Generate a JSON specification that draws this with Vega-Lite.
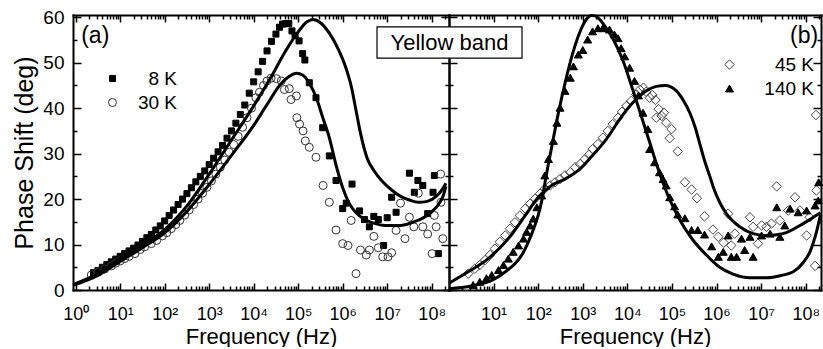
{
"$schema": "https://vega.github.io/schema/vega-lite/v6.json",
"padding": {"left": 12, "top": 8, "right": 0, "bottom": 0},
"spacing": 0,
"bounds": "flush",
"datasets": {
"a_pts": [
{"f":2.51,"p":3.8,"s":"8 K"},{"f":3.16,"p":4.3,"s":"8 K"},{"f":3.98,"p":5.0,"s":"8 K"},{"f":5.01,"p":5.6,"s":"8 K"},{"f":6.31,"p":6.2,"s":"8 K"},{"f":7.94,"p":6.8,"s":"8 K"},{"f":10,"p":7.4,"s":"8 K"},{"f":12.6,"p":8.0,"s":"8 K"},{"f":15.8,"p":8.6,"s":"8 K"},{"f":20,"p":9.2,"s":"8 K"},{"f":25.1,"p":9.9,"s":"8 K"},{"f":31.6,"p":10.7,"s":"8 K"},{"f":39.8,"p":11.5,"s":"8 K"},{"f":50.1,"p":12.2,"s":"8 K"},{"f":63.1,"p":13.2,"s":"8 K"},{"f":79.4,"p":14.1,"s":"8 K"},{"f":100,"p":15.2,"s":"8 K"},{"f":126,"p":16.4,"s":"8 K"},{"f":158,"p":17.6,"s":"8 K"},{"f":200,"p":18.8,"s":"8 K"},{"f":251,"p":20.0,"s":"8 K"},{"f":316,"p":21.2,"s":"8 K"},{"f":398,"p":22.5,"s":"8 K"},{"f":501,"p":23.8,"s":"8 K"},{"f":631,"p":25.0,"s":"8 K"},{"f":794,"p":26.2,"s":"8 K"},{"f":1000,"p":27.6,"s":"8 K"},{"f":1259,"p":29.0,"s":"8 K"},{"f":1585,"p":30.4,"s":"8 K"},{"f":1995,"p":31.8,"s":"8 K"},{"f":2512,"p":33.4,"s":"8 K"},{"f":3162,"p":35.0,"s":"8 K"},{"f":3981,"p":36.7,"s":"8 K"},{"f":5012,"p":38.6,"s":"8 K"},{"f":6310,"p":40.7,"s":"8 K"},{"f":7943,"p":43.3,"s":"8 K"},{"f":1e4,"p":45.8,"s":"8 K"},{"f":1.259e4,"p":48.0,"s":"8 K"},{"f":1.585e4,"p":50.3,"s":"8 K"},{"f":1.995e4,"p":52.6,"s":"8 K"},{"f":2.512e4,"p":54.7,"s":"8 K"},{"f":3.162e4,"p":56.3,"s":"8 K"},{"f":3.802e4,"p":57.8,"s":"8 K"},{"f":4.467e4,"p":58.5,"s":"8 K"},{"f":5.248e4,"p":58.6,"s":"8 K"},{"f":6.166e4,"p":58.6,"s":"8 K"},{"f":7.244e4,"p":57.0,"s":"8 K"},{"f":8.511e4,"p":56.0,"s":"8 K"},{"f":1.047e5,"p":54.8,"s":"8 K"},{"f":1.259e5,"p":52.0,"s":"8 K"},{"f":1.413e5,"p":50.6,"s":"8 K"},{"f":1.778e5,"p":45.6,"s":"8 K"},{"f":2.512e5,"p":42.3,"s":"8 K"},{"f":3.548e5,"p":35.7,"s":"8 K"},{"f":5.012e5,"p":29.5,"s":"8 K"},{"f":7.079e5,"p":24.1,"s":"8 K"},{"f":1e6,"p":17.9,"s":"8 K"},{"f":1.202e6,"p":19.1,"s":"8 K"},{"f":1.622e6,"p":23.3,"s":"8 K"},{"f":2.399e6,"p":17.4,"s":"8 K"},{"f":3.09e6,"p":15.5,"s":"8 K"},{"f":3.981e6,"p":13.9,"s":"8 K"},{"f":5.012e6,"p":16.2,"s":"8 K"},{"f":6.31e6,"p":15.5,"s":"8 K"},{"f":8.318e6,"p":9.8,"s":"8 K"},{"f":1e7,"p":15.9,"s":"8 K"},{"f":1.259e7,"p":20.4,"s":"8 K"},{"f":1.585e7,"p":17.1,"s":"8 K"},{"f":3.162e7,"p":25.7,"s":"8 K"},{"f":4.074e7,"p":21.5,"s":"8 K"},{"f":4.898e7,"p":24.1,"s":"8 K"},{"f":6.31e7,"p":23.0,"s":"8 K"},{"f":8.128e7,"p":16.8,"s":"8 K"},{"f":1.072e8,"p":21.5,"s":"8 K"},{"f":1.148e8,"p":25.2,"s":"8 K"},{"f":1.413e8,"p":8.0,"s":"8 K"},
{"f":2.24,"p":3.3,"s":"30 K"},{"f":3.16,"p":3.9,"s":"30 K"},{"f":4.47,"p":4.6,"s":"30 K"},{"f":6.31,"p":5.3,"s":"30 K"},{"f":7.94,"p":5.9,"s":"30 K"},{"f":10,"p":6.4,"s":"30 K"},{"f":12.6,"p":6.9,"s":"30 K"},{"f":15.8,"p":7.4,"s":"30 K"},{"f":21.4,"p":8.0,"s":"30 K"},{"f":28.2,"p":8.9,"s":"30 K"},{"f":35.5,"p":9.5,"s":"30 K"},{"f":50.1,"p":10.2,"s":"30 K"},{"f":66.1,"p":10.9,"s":"30 K"},{"f":89.1,"p":11.9,"s":"30 K"},{"f":112,"p":12.6,"s":"30 K"},{"f":141,"p":13.5,"s":"30 K"},{"f":178,"p":14.4,"s":"30 K"},{"f":219,"p":15.3,"s":"30 K"},{"f":282,"p":16.5,"s":"30 K"},{"f":355,"p":17.6,"s":"30 K"},{"f":447,"p":18.8,"s":"30 K"},{"f":562,"p":20.0,"s":"30 K"},{"f":708,"p":21.3,"s":"30 K"},{"f":891,"p":22.6,"s":"30 K"},{"f":1122,"p":24.0,"s":"30 K"},{"f":1413,"p":25.5,"s":"30 K"},{"f":1778,"p":27.0,"s":"30 K"},{"f":2239,"p":28.6,"s":"30 K"},{"f":2818,"p":30.3,"s":"30 K"},{"f":3548,"p":32.0,"s":"30 K"},{"f":4467,"p":33.8,"s":"30 K"},{"f":5623,"p":35.8,"s":"30 K"},{"f":7079,"p":37.9,"s":"30 K"},{"f":8913,"p":40.0,"s":"30 K"},{"f":1.122e4,"p":42.3,"s":"30 K"},{"f":1.349e4,"p":43.5,"s":"30 K"},{"f":1.66e4,"p":45.0,"s":"30 K"},{"f":1.995e4,"p":46.0,"s":"30 K"},{"f":2.455e4,"p":46.6,"s":"30 K"},{"f":3.236e4,"p":46.5,"s":"30 K"},{"f":4.169e4,"p":46.0,"s":"30 K"},{"f":4.898e4,"p":44.1,"s":"30 K"},{"f":6.31e4,"p":44.3,"s":"30 K"},{"f":6.918e4,"p":41.9,"s":"30 K"},{"f":9.12e4,"p":42.7,"s":"30 K"},{"f":9.333e4,"p":37.9,"s":"30 K"},{"f":1.072e5,"p":36.5,"s":"30 K"},{"f":1.288e5,"p":35.0,"s":"30 K"},{"f":1.445e5,"p":32.8,"s":"30 K"},{"f":1.778e5,"p":31.4,"s":"30 K"},{"f":2.512e5,"p":29.2,"s":"30 K"},{"f":3.631e5,"p":23.0,"s":"30 K"},{"f":5.012e5,"p":19.3,"s":"30 K"},{"f":7.079e5,"p":13.2,"s":"30 K"},{"f":1e6,"p":10.2,"s":"30 K"},{"f":1.318e6,"p":9.8,"s":"30 K"},{"f":1.549e6,"p":15.3,"s":"30 K"},{"f":1.995e6,"p":3.6,"s":"30 K"},{"f":2.512e6,"p":8.8,"s":"30 K"},{"f":3.388e6,"p":7.7,"s":"30 K"},{"f":3.981e6,"p":8.8,"s":"30 K"},{"f":5.012e6,"p":11.8,"s":"30 K"},{"f":6.31e6,"p":9.3,"s":"30 K"},{"f":7.943e6,"p":7.3,"s":"30 K"},{"f":1.047e7,"p":7.3,"s":"30 K"},{"f":1.259e7,"p":8.2,"s":"30 K"},{"f":1.585e7,"p":13.1,"s":"30 K"},{"f":1.995e7,"p":19.1,"s":"30 K"},{"f":2.512e7,"p":11.3,"s":"30 K"},{"f":3.162e7,"p":16.0,"s":"30 K"},{"f":3.981e7,"p":13.9,"s":"30 K"},{"f":5.012e7,"p":21.3,"s":"30 K"},{"f":6.31e7,"p":13.9,"s":"30 K"},{"f":8.128e7,"p":12.3,"s":"30 K"},{"f":1.023e8,"p":8.0,"s":"30 K"},{"f":1.148e8,"p":16.4,"s":"30 K"},{"f":1.259e8,"p":13.9,"s":"30 K"},{"f":1.585e8,"p":25.5,"s":"30 K"},{"f":1.622e8,"p":19.3,"s":"30 K"},{"f":1.778e8,"p":11.3,"s":"30 K"}
],
"a_fit": [
{"f":0.871,"p":1.2,"s":"8 K"},{"f":3.16,"p":3.6,"s":"8 K"},{"f":10,"p":7.0,"s":"8 K"},{"f":31.6,"p":9.9,"s":"8 K"},{"f":100,"p":13.3,"s":"8 K"},{"f":316,"p":18.5,"s":"8 K"},{"f":1000,"p":25.5,"s":"8 K"},{"f":3162,"p":33.0,"s":"8 K"},{"f":1e4,"p":40.5,"s":"8 K"},{"f":2.512e4,"p":47.0,"s":"8 K"},{"f":5.012e4,"p":52.3,"s":"8 K"},{"f":1e5,"p":56.8,"s":"8 K"},{"f":1.585e5,"p":59.0,"s":"8 K"},{"f":2.138e5,"p":59.5,"s":"8 K"},{"f":3.162e5,"p":58.8,"s":"8 K"},{"f":5.012e5,"p":56.5,"s":"8 K"},{"f":7.943e5,"p":53.0,"s":"8 K"},{"f":1.122e6,"p":49.5,"s":"8 K"},{"f":1.585e6,"p":44.5,"s":"8 K"},{"f":1.995e6,"p":39.5,"s":"8 K"},{"f":2.512e6,"p":34.5,"s":"8 K"},{"f":3.548e6,"p":29.0,"s":"8 K"},{"f":5.012e6,"p":26.3,"s":"8 K"},{"f":7.943e6,"p":23.8,"s":"8 K"},{"f":1.259e7,"p":22.0,"s":"8 K"},{"f":1.995e7,"p":20.6,"s":"8 K"},{"f":3.162e7,"p":19.8,"s":"8 K"},{"f":5.012e7,"p":19.3,"s":"8 K"},{"f":7.943e7,"p":19.5,"s":"8 K"},{"f":1.259e8,"p":20.6,"s":"8 K"},{"f":1.778e8,"p":22.3,"s":"8 K"},{"f":2.089e8,"p":23.5,"s":"8 K"},
{"f":0.871,"p":1.0,"s":"30 K"},{"f":3.16,"p":3.2,"s":"30 K"},{"f":10,"p":6.3,"s":"30 K"},{"f":31.6,"p":9.3,"s":"30 K"},{"f":100,"p":12.6,"s":"30 K"},{"f":316,"p":17.3,"s":"30 K"},{"f":1000,"p":23.2,"s":"30 K"},{"f":3162,"p":29.6,"s":"30 K"},{"f":1e4,"p":36.2,"s":"30 K"},{"f":1.995e4,"p":40.8,"s":"30 K"},{"f":3.981e4,"p":45.2,"s":"30 K"},{"f":6.31e4,"p":47.0,"s":"30 K"},{"f":9.12e4,"p":47.7,"s":"30 K"},{"f":1.259e5,"p":47.3,"s":"30 K"},{"f":1.778e5,"p":45.5,"s":"30 K"},{"f":2.512e5,"p":42.5,"s":"30 K"},{"f":3.548e5,"p":38.0,"s":"30 K"},{"f":5.012e5,"p":33.5,"s":"30 K"},{"f":7.079e5,"p":27.5,"s":"30 K"},{"f":1e6,"p":22.5,"s":"30 K"},{"f":1.413e6,"p":19.0,"s":"30 K"},{"f":1.995e6,"p":17.0,"s":"30 K"},{"f":3.162e6,"p":15.5,"s":"30 K"},{"f":5.012e6,"p":14.7,"s":"30 K"},{"f":8.913e6,"p":14.2,"s":"30 K"},{"f":1.995e7,"p":14.2,"s":"30 K"},{"f":3.981e7,"p":15.0,"s":"30 K"},{"f":6.31e7,"p":15.8,"s":"30 K"},{"f":1e8,"p":17.2,"s":"30 K"},{"f":1.413e8,"p":18.8,"s":"30 K"},{"f":1.778e8,"p":20.5,"s":"30 K"},{"f":2.089e8,"p":22.8,"s":"30 K"}
],
"b_pts": [
{"f":2.69,"p":3.6,"s":"45 K"},{"f":3.8,"p":4.7,"s":"45 K"},{"f":4.9,"p":5.5,"s":"45 K"},{"f":6.46,"p":6.6,"s":"45 K"},{"f":8.32,"p":7.7,"s":"45 K"},{"f":10.7,"p":9.1,"s":"45 K"},{"f":13.8,"p":10.6,"s":"45 K"},{"f":18.2,"p":12.0,"s":"45 K"},{"f":23.4,"p":13.5,"s":"45 K"},{"f":30.2,"p":14.9,"s":"45 K"},{"f":38.9,"p":16.4,"s":"45 K"},{"f":51.3,"p":17.9,"s":"45 K"},{"f":66.1,"p":19.0,"s":"45 K"},{"f":85.1,"p":20.1,"s":"45 K"},{"f":110,"p":21.2,"s":"45 K"},{"f":141,"p":22.3,"s":"45 K"},{"f":186,"p":23.0,"s":"45 K"},{"f":240,"p":23.7,"s":"45 K"},{"f":309,"p":24.4,"s":"45 K"},{"f":398,"p":25.2,"s":"45 K"},{"f":525,"p":25.9,"s":"45 K"},{"f":676,"p":27.0,"s":"45 K"},{"f":871,"p":27.7,"s":"45 K"},{"f":1122,"p":28.8,"s":"45 K"},{"f":1380,"p":29.8,"s":"45 K"},{"f":1660,"p":31.0,"s":"45 K"},{"f":2188,"p":32.1,"s":"45 K"},{"f":2818,"p":33.5,"s":"45 K"},{"f":3631,"p":35.0,"s":"45 K"},{"f":4677,"p":36.5,"s":"45 K"},{"f":6166,"p":37.9,"s":"45 K"},{"f":7586,"p":39.2,"s":"45 K"},{"f":9550,"p":40.5,"s":"45 K"},{"f":1.23e4,"p":41.6,"s":"45 K"},{"f":1.585e4,"p":43.0,"s":"45 K"},{"f":1.905e4,"p":44.1,"s":"45 K"},{"f":2.291e4,"p":44.5,"s":"45 K"},{"f":2.63e4,"p":43.6,"s":"45 K"},{"f":3.162e4,"p":42.3,"s":"45 K"},{"f":3.631e4,"p":42.9,"s":"45 K"},{"f":4.266e4,"p":41.8,"s":"45 K"},{"f":4.467e4,"p":37.9,"s":"45 K"},{"f":5.012e4,"p":39.8,"s":"45 K"},{"f":5.888e4,"p":38.3,"s":"45 K"},{"f":6.607e4,"p":39.0,"s":"45 K"},{"f":7.413e4,"p":36.8,"s":"45 K"},{"f":8.913e4,"p":33.4,"s":"45 K"},{"f":9.772e4,"p":35.4,"s":"45 K"},{"f":1.349e5,"p":30.5,"s":"45 K"},{"f":1.95e5,"p":23.7,"s":"45 K"},{"f":2.754e5,"p":22.1,"s":"45 K"},{"f":3.631e5,"p":20.2,"s":"45 K"},{"f":5.37e5,"p":16.2,"s":"45 K"},{"f":8.318e5,"p":13.3,"s":"45 K"},{"f":1.096e6,"p":11.7,"s":"45 K"},{"f":1.445e6,"p":10.4,"s":"45 K"},{"f":1.82e6,"p":16.8,"s":"45 K"},{"f":2.138e6,"p":9.8,"s":"45 K"},{"f":2.57e6,"p":12.4,"s":"45 K"},{"f":5.623e6,"p":16.0,"s":"45 K"},{"f":6.607e6,"p":13.9,"s":"45 K"},{"f":8.511e6,"p":10.2,"s":"45 K"},{"f":1.023e7,"p":14.2,"s":"45 K"},{"f":1.318e7,"p":13.9,"s":"45 K"},{"f":1.698e7,"p":14.6,"s":"45 K"},{"f":2.239e7,"p":22.8,"s":"45 K"},{"f":2.63e7,"p":15.3,"s":"45 K"},{"f":4.074e7,"p":17.5,"s":"45 K"},{"f":5.754e7,"p":20.4,"s":"45 K"},{"f":7.413e7,"p":17.5,"s":"45 K"},{"f":1.047e8,"p":12.0,"s":"45 K"},{"f":1.23e8,"p":16.0,"s":"45 K"},{"f":1.622e8,"p":5.3,"s":"45 K"},{"f":1.738e8,"p":21.9,"s":"45 K"},{"f":1.698e8,"p":38.5,"s":"45 K"},
{"f":3.47,"p":1.1,"s":"140 K"},{"f":4.9,"p":1.8,"s":"140 K"},{"f":6.92,"p":2.6,"s":"140 K"},{"f":9.12,"p":3.3,"s":"140 K"},{"f":12.9,"p":4.4,"s":"140 K"},{"f":16.6,"p":5.5,"s":"140 K"},{"f":21.4,"p":6.9,"s":"140 K"},{"f":27.5,"p":8.4,"s":"140 K"},{"f":36.3,"p":9.8,"s":"140 K"},{"f":46.8,"p":11.3,"s":"140 K"},{"f":55.0,"p":12.8,"s":"140 K"},{"f":66.1,"p":14.2,"s":"140 K"},{"f":77.6,"p":15.7,"s":"140 K"},{"f":93.3,"p":18.2,"s":"140 K"},{"f":120,"p":20.8,"s":"140 K"},{"f":141,"p":25.2,"s":"140 K"},{"f":170,"p":28.8,"s":"140 K"},{"f":219,"p":32.8,"s":"140 K"},{"f":263,"p":36.8,"s":"140 K"},{"f":309,"p":40.1,"s":"140 K"},{"f":398,"p":43.8,"s":"140 K"},{"f":525,"p":46.7,"s":"140 K"},{"f":617,"p":49.2,"s":"140 K"},{"f":794,"p":51.8,"s":"140 K"},{"f":1000,"p":52.8,"s":"140 K"},{"f":1288,"p":55.1,"s":"140 K"},{"f":1660,"p":56.9,"s":"140 K"},{"f":2188,"p":57.6,"s":"140 K"},{"f":2818,"p":57.6,"s":"140 K"},{"f":3981,"p":57.3,"s":"140 K"},{"f":5129,"p":56.2,"s":"140 K"},{"f":6166,"p":55.4,"s":"140 K"},{"f":7244,"p":53.2,"s":"140 K"},{"f":8710,"p":51.4,"s":"140 K"},{"f":1.122e4,"p":48.9,"s":"140 K"},{"f":1.445e4,"p":46.0,"s":"140 K"},{"f":1.778e4,"p":42.8,"s":"140 K"},{"f":2.239e4,"p":39.0,"s":"140 K"},{"f":2.884e4,"p":35.4,"s":"140 K"},{"f":3.162e4,"p":31.0,"s":"140 K"},{"f":4.074e4,"p":28.1,"s":"140 K"},{"f":5.248e4,"p":25.9,"s":"140 K"},{"f":6.31e4,"p":24.4,"s":"140 K"},{"f":7.413e4,"p":23.0,"s":"140 K"},{"f":8.913e4,"p":20.4,"s":"140 K"},{"f":1.148e5,"p":18.4,"s":"140 K"},{"f":1.349e5,"p":16.6,"s":"140 K"},{"f":1.95e5,"p":15.8,"s":"140 K"},{"f":2.754e5,"p":13.2,"s":"140 K"},{"f":3.802e5,"p":13.2,"s":"140 K"},{"f":5.37e5,"p":12.2,"s":"140 K"},{"f":7.762e5,"p":9.6,"s":"140 K"},{"f":1.096e6,"p":7.3,"s":"140 K"},{"f":1.413e6,"p":8.4,"s":"140 K"},{"f":1.82e6,"p":12.0,"s":"140 K"},{"f":2.138e6,"p":7.3,"s":"140 K"},{"f":2.818e6,"p":7.3,"s":"140 K"},{"f":3.631e6,"p":11.3,"s":"140 K"},{"f":4.266e6,"p":8.8,"s":"140 K"},{"f":5.623e6,"p":11.7,"s":"140 K"},{"f":6.607e6,"p":7.3,"s":"140 K"},{"f":1.023e7,"p":12.0,"s":"140 K"},{"f":1.585e7,"p":12.4,"s":"140 K"},{"f":2.239e7,"p":18.2,"s":"140 K"},{"f":2.63e7,"p":11.7,"s":"140 K"},{"f":3.388e7,"p":14.2,"s":"140 K"},{"f":4.467e7,"p":17.9,"s":"140 K"},{"f":6.761e7,"p":17.1,"s":"140 K"},{"f":1.047e8,"p":17.5,"s":"140 K"},{"f":1.622e8,"p":18.6,"s":"140 K"},{"f":1.905e8,"p":19.7,"s":"140 K"},{"f":1.95e8,"p":23.7,"s":"140 K"}
],
"b_fit": [
{"f":1,"p":1.5,"s":"45 K"},{"f":2.69,"p":4.0,"s":"45 K"},{"f":7.59,"p":6.9,"s":"45 K"},{"f":21.4,"p":11.3,"s":"45 K"},{"f":51.3,"p":16.4,"s":"45 K"},{"f":100,"p":20.4,"s":"45 K"},{"f":199.5,"p":23.0,"s":"45 K"},{"f":398,"p":24.4,"s":"45 K"},{"f":794,"p":26.3,"s":"45 K"},{"f":1585,"p":29.4,"s":"45 K"},{"f":3388,"p":33.2,"s":"45 K"},{"f":6761,"p":37.6,"s":"45 K"},{"f":1.318e4,"p":41.2,"s":"45 K"},{"f":2.63e4,"p":43.8,"s":"45 K"},{"f":4.467e4,"p":44.8,"s":"45 K"},{"f":7.079e4,"p":45.0,"s":"45 K"},{"f":1.259e5,"p":43.8,"s":"45 K"},{"f":1.778e5,"p":41.8,"s":"45 K"},{"f":2.512e5,"p":39.0,"s":"45 K"},{"f":3.311e5,"p":35.8,"s":"45 K"},{"f":4.169e5,"p":32.3,"s":"45 K"},{"f":5.37e5,"p":28.5,"s":"45 K"},{"f":7.079e5,"p":25.0,"s":"45 K"},{"f":8.913e5,"p":22.0,"s":"45 K"},{"f":1.175e6,"p":19.3,"s":"45 K"},{"f":1.66e6,"p":16.8,"s":"45 K"},{"f":3.311e6,"p":13.9,"s":"45 K"},{"f":6.607e6,"p":12.4,"s":"45 K"},{"f":1.318e7,"p":12.0,"s":"45 K"},{"f":3.09e7,"p":12.4,"s":"45 K"},{"f":7.413e7,"p":14.2,"s":"45 K"},{"f":1.479e8,"p":16.0,"s":"45 K"},{"f":2.138e8,"p":17.0,"s":"45 K"},
{"f":1,"p":0.3,"s":"140 K"},{"f":3.16,"p":0.9,"s":"140 K"},{"f":10,"p":2.3,"s":"140 K"},{"f":20,"p":4.3,"s":"140 K"},{"f":31.6,"p":6.0,"s":"140 K"},{"f":44.7,"p":8.0,"s":"140 K"},{"f":60.3,"p":10.6,"s":"140 K"},{"f":79.4,"p":13.5,"s":"140 K"},{"f":100,"p":16.4,"s":"140 K"},{"f":120.2,"p":19.6,"s":"140 K"},{"f":141.3,"p":23.5,"s":"140 K"},{"f":166,"p":27.3,"s":"140 K"},{"f":199.5,"p":31.3,"s":"140 K"},{"f":281.8,"p":38.8,"s":"140 K"},{"f":398,"p":45.4,"s":"140 K"},{"f":616.6,"p":52.6,"s":"140 K"},{"f":955,"p":57.8,"s":"140 K"},{"f":1259,"p":59.8,"s":"140 K"},{"f":1549,"p":60.4,"s":"140 K"},{"f":1905,"p":60.3,"s":"140 K"},{"f":2399,"p":59.5,"s":"140 K"},{"f":3162,"p":58.0,"s":"140 K"},{"f":4677,"p":55.4,"s":"140 K"},{"f":7943,"p":50.5,"s":"140 K"},{"f":1.318e4,"p":44.1,"s":"140 K"},{"f":2.042e4,"p":38.3,"s":"140 K"},{"f":3.162e4,"p":32.5,"s":"140 K"},{"f":4.898e4,"p":26.6,"s":"140 K"},{"f":8.128e4,"p":20.8,"s":"140 K"},{"f":1.479e5,"p":15.5,"s":"140 K"},{"f":2.951e5,"p":11.0,"s":"140 K"},{"f":5.888e5,"p":7.7,"s":"140 K"},{"f":1.175e6,"p":5.0,"s":"140 K"},{"f":2.344e6,"p":3.5,"s":"140 K"},{"f":5.623e6,"p":2.7,"s":"140 K"},{"f":1.318e7,"p":2.7,"s":"140 K"},{"f":2.818e7,"p":3.2,"s":"140 K"},{"f":5.248e7,"p":4.0,"s":"140 K"},{"f":8.71e7,"p":6.0,"s":"140 K"},{"f":1.259e8,"p":8.5,"s":"140 K"},{"f":1.66e8,"p":12.0,"s":"140 K"},{"f":2.138e8,"p":16.5,"s":"140 K"}
],
"a_note": [{"t":"(a)","f":1.33,"p":54.3}],
"b_note": [{"t":"(b)","f":4.44e7,"p":54.3}],
"box": [{"t":"Yellow band","f":1.026,"p":52.8,"f1":0.0243,"f2":43.4,"p1":51.0,"p2":57.9}]
},
"hconcat": [
{
"width": 376, "height": 275,
"layer": [
{
"data": {"name": "a_pts"},
"mark": {"type": "point", "filled": true, "strokeWidth": 1, "opacity": 1},
"encoding": {
"x": {"field": "f", "type": "quantitative", "scale": {"type": "log", "domain": [0.87, 2.45e8], "nice": false},
 "axis": {"orient": "bottom", "title": "Frequency (Hz)", "titlePadding": 0,
  "values": [1,2,3,4,5,6,7,8,9,10,20,30,40,50,60,70,80,90,100,200,300,400,500,600,700,800,900,1000,2000,3000,4000,5000,6000,7000,8000,9000,1e4,2e4,3e4,4e4,5e4,6e4,7e4,8e4,9e4,1e5,2e5,3e5,4e5,5e5,6e5,7e5,8e5,9e5,1e6,2e6,3e6,4e6,5e6,6e6,7e6,8e6,9e6,1e7,2e7,3e7,4e7,5e7,6e7,7e7,8e7,9e7,1e8,2e8],
  "labelExpr": "abs(log(datum.value)/LN10-round(log(datum.value)/LN10))<0.001 ? '10' + ['⁰','¹','²','³','⁴','⁵','⁶','⁷','⁸'][round(log(datum.value)/LN10)] : ''",
  "tickSize": {"condition": {"test": "abs(log(datum.value)/LN10-round(log(datum.value)/LN10))<0.001", "value": -7}, "value": -4},
  "labelPadding": 22}},
"y": {"field": "p", "type": "quantitative", "scale": {"domain": [0, 60.5], "nice": false, "zero": false},
 "axis": {"orient": "left", "title": "Phase Shift (deg)", "titleFontSize": 25, "titlePadding": 5,
  "values": [0,5,10,15,20,25,30,35,40,45,50,55,60],
  "labelExpr": "datum.value % 10 == 0 ? datum.label : ''",
  "tickSize": {"condition": {"test": "datum.value % 10 == 0", "value": -8}, "value": -4},
  "labelPadding": 17, "labelFontSize": 19}},
"shape": {"field": "s", "type": "nominal", "scale": {"domain": ["8 K", "30 K"], "range": ["square", "circle"]},
 "legend": {"title": null, "orient": "none", "legendX": 30, "legendY": 54, "labelAlign": "right", "labelOffset": 55, "labelFontSize": 19, "rowPadding": 4}},
"fill": {"field": "s", "type": "nominal", "scale": {"domain": ["8 K", "30 K"], "range": ["#000000", "transparent"]}},
"stroke": {"field": "s", "type": "nominal", "scale": {"domain": ["8 K", "30 K"], "range": ["#000000", "#333333"]}},
"size": {"field": "s", "type": "nominal", "scale": {"domain": ["8 K", "30 K"], "range": [36, 64]}}
}
},
{
"data": {"name": "a_fit"},
"mark": {"type": "line", "interpolate": "monotone", "strokeWidth": 3, "color": "#000000"},
"encoding": {
"x": {"field": "f", "type": "quantitative", "scale": {"type": "log", "domain": [0.87, 2.45e8], "nice": false},
 "axis": {"orient": "top", "title": null, "labels": false,
  "values": [1,2,3,4,5,6,7,8,9,10,20,30,40,50,60,70,80,90,100,200,300,400,500,600,700,800,900,1000,2000,3000,4000,5000,6000,7000,8000,9000,1e4,2e4,3e4,4e4,5e4,6e4,7e4,8e4,9e4,1e5,2e5,3e5,4e5,5e5,6e5,7e5,8e5,9e5,1e6,2e6,3e6,4e6,5e6,6e6,7e6,8e6,9e6,1e7,2e7,3e7,4e7,5e7,6e7,7e7,8e7,9e7,1e8,2e8],
  "tickSize": {"condition": {"test": "abs(log(datum.value)/LN10-round(log(datum.value)/LN10))<0.001", "value": -7}, "value": -4}}},
"y": {"field": "p", "type": "quantitative", "scale": {"domain": [0, 60.5], "nice": false, "zero": false},
 "axis": {"orient": "right", "title": null, "labels": false,
  "values": [0,5,10,15,20,25,30,35,40,45,50,55,60],
  "tickSize": {"condition": {"test": "datum.value % 10 == 0", "value": -8}, "value": -4}}},
"detail": {"field": "s", "type": "nominal"}
}
},
{
"data": {"name": "a_note"},
"mark": {"type": "text", "fontSize": 23, "align": "left", "baseline": "alphabetic", "color": "#000000"},
"encoding": {
"x": {"field": "f", "type": "quantitative", "scale": {"type": "log", "domain": [0.87, 2.45e8], "nice": false}, "axis": null},
"y": {"field": "p", "type": "quantitative", "scale": {"domain": [0, 60.5], "nice": false, "zero": false}, "axis": null},
"text": {"field": "t"}
}
}
],
"resolve": {"axis": {"x": "independent", "y": "independent"}}
},
{
"width": 372, "height": 275,
"layer": [
{
"data": {"name": "b_pts"},
"mark": {"type": "point", "filled": true, "strokeWidth": 1, "opacity": 1},
"encoding": {
"x": {"field": "f", "type": "quantitative", "scale": {"type": "log", "domain": [1, 2.2e8], "nice": false},
 "axis": {"orient": "bottom", "title": "Frequency (Hz)", "titlePadding": 0,
  "values": [2,3,4,5,6,7,8,9,10,20,30,40,50,60,70,80,90,100,200,300,400,500,600,700,800,900,1000,2000,3000,4000,5000,6000,7000,8000,9000,1e4,2e4,3e4,4e4,5e4,6e4,7e4,8e4,9e4,1e5,2e5,3e5,4e5,5e5,6e5,7e5,8e5,9e5,1e6,2e6,3e6,4e6,5e6,6e6,7e6,8e6,9e6,1e7,2e7,3e7,4e7,5e7,6e7,7e7,8e7,9e7,1e8,2e8],
  "labelExpr": "abs(log(datum.value)/LN10-round(log(datum.value)/LN10))<0.001 && datum.value > 5 ? '10' + ['⁰','¹','²','³','⁴','⁵','⁶','⁷','⁸'][round(log(datum.value)/LN10)] : ''",
  "tickSize": {"condition": {"test": "abs(log(datum.value)/LN10-round(log(datum.value)/LN10))<0.001", "value": -7}, "value": -4},
  "labelPadding": 22}},
"y": {"field": "p", "type": "quantitative", "scale": {"domain": [0, 60.5], "nice": false, "zero": false},
 "axis": {"orient": "left", "title": null, "labels": false,
  "values": [0,5,10,15,20,25,30,35,40,45,50,55,60],
  "tickSize": {"condition": {"test": "datum.value % 10 == 0", "value": -8}, "value": -4}}},
"shape": {"field": "s", "type": "nominal", "scale": {"domain": ["45 K", "140 K"], "range": ["diamond", "triangle-up"]},
 "legend": {"title": null, "orient": "none", "legendX": 271, "legendY": 40, "labelAlign": "right", "labelOffset": 75, "labelFontSize": 19, "rowPadding": 4}},
"fill": {"field": "s", "type": "nominal", "scale": {"domain": ["45 K", "140 K"], "range": ["transparent", "#000000"]}},
"stroke": {"field": "s", "type": "nominal", "scale": {"domain": ["45 K", "140 K"], "range": ["#444444", "#000000"]}},
"size": {"field": "s", "type": "nominal", "scale": {"domain": ["45 K", "140 K"], "range": [90, 64]}}
}
},
{
"data": {"name": "b_fit"},
"mark": {"type": "line", "interpolate": "monotone", "strokeWidth": 3, "color": "#000000"},
"encoding": {
"x": {"field": "f", "type": "quantitative", "scale": {"type": "log", "domain": [1, 2.2e8], "nice": false},
 "axis": {"orient": "top", "title": null, "labels": false,
  "values": [2,3,4,5,6,7,8,9,10,20,30,40,50,60,70,80,90,100,200,300,400,500,600,700,800,900,1000,2000,3000,4000,5000,6000,7000,8000,9000,1e4,2e4,3e4,4e4,5e4,6e4,7e4,8e4,9e4,1e5,2e5,3e5,4e5,5e5,6e5,7e5,8e5,9e5,1e6,2e6,3e6,4e6,5e6,6e6,7e6,8e6,9e6,1e7,2e7,3e7,4e7,5e7,6e7,7e7,8e7,9e7,1e8,2e8],
  "tickSize": {"condition": {"test": "abs(log(datum.value)/LN10-round(log(datum.value)/LN10))<0.001", "value": -7}, "value": -4}}},
"y": {"field": "p", "type": "quantitative", "scale": {"domain": [0, 60.5], "nice": false, "zero": false},
 "axis": {"orient": "right", "title": null, "labels": false,
  "values": [0,5,10,15,20,25,30,35,40,45,50,55,60],
  "tickSize": {"condition": {"test": "datum.value % 10 == 0", "value": -8}, "value": -4}}},
"detail": {"field": "s", "type": "nominal"}
}
},
{
"data": {"name": "box"},
"mark": {"type": "rect", "fill": "#ffffff", "stroke": "#000000", "strokeWidth": 1.2},
"encoding": {
"x": {"field": "f1", "type": "quantitative", "scale": {"type": "log", "domain": [1, 2.2e8], "nice": false}, "axis": null},
"x2": {"field": "f2"},
"y": {"field": "p1", "type": "quantitative", "scale": {"domain": [0, 60.5], "nice": false, "zero": false}, "axis": null},
"y2": {"field": "p2"}
}
},
{
"data": {"name": "box"},
"mark": {"type": "text", "fontSize": 22, "align": "center", "baseline": "alphabetic", "color": "#000000"},
"encoding": {
"x": {"field": "f", "type": "quantitative", "scale": {"type": "log", "domain": [1, 2.2e8], "nice": false}, "axis": null},
"y": {"field": "p", "type": "quantitative", "scale": {"domain": [0, 60.5], "nice": false, "zero": false}, "axis": null},
"text": {"field": "t"}
}
},
{
"data": {"name": "b_note"},
"mark": {"type": "text", "fontSize": 23, "align": "left", "baseline": "alphabetic", "color": "#000000"},
"encoding": {
"x": {"field": "f", "type": "quantitative", "scale": {"type": "log", "domain": [1, 2.2e8], "nice": false}, "axis": null},
"y": {"field": "p", "type": "quantitative", "scale": {"domain": [0, 60.5], "nice": false, "zero": false}, "axis": null},
"text": {"field": "t"}
}
}
],
"resolve": {"axis": {"x": "independent", "y": "independent"}}
}
],
"resolve": {"scale": {"shape": "independent", "fill": "independent", "stroke": "independent", "size": "independent"}},
"config": {
"font": "Liberation Sans",
"view": {"stroke": null},
"axis": {"grid": false, "domainColor": "#000000", "domainWidth": 2, "domainCap": "square", "tickColor": "#000000", "tickWidth": 1.5, "labelColor": "#000000", "labelFontSize": 18, "titleColor": "#000000", "titleFontSize": 22, "titleFontWeight": "normal", "labelOverlap": false, "labelFlush": false, "labelBound": false},
"legend": {"labelColor": "#000000", "labelFontSize": 19, "symbolStrokeWidth": 1}
}
}
